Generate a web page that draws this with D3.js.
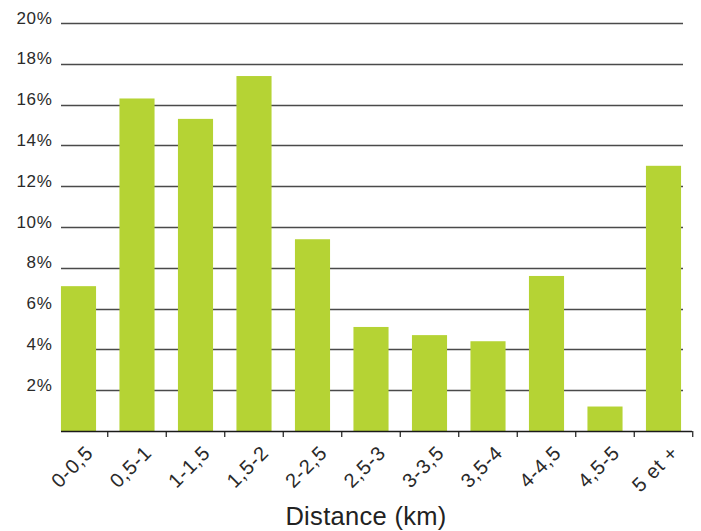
<!DOCTYPE html>
<html>
<head>
<meta charset="utf-8">
<script src="https://cdn.jsdelivr.net/npm/d3@7"></script>
<style>
  html, body { margin: 0; padding: 0; background: #fff; }
  svg { display: block; font-family: "Liberation Sans", Arial, Helvetica, sans-serif; }
</style>
</head>
<body>
<svg id="chart" width="701" height="531"></svg>
<script>
// Share of trips by distance band (%)
const categories = ["0-0,5", "0,5-1", "1-1,5", "1,5-2", "2-2,5", "2,5-3", "3-3,5", "3,5-4", "4-4,5", "4,5-5", "5 et +"];
const shares = [7.1, 16.3, 15.3, 17.4, 9.4, 5.1, 4.7, 4.4, 7.6, 1.2, 13.0];
const yTicks = [2, 4, 6, 8, 10, 12, 14, 16, 18, 20];
const xTitle = "Distance (km)";

const svg = d3.select("#chart");

const x = d3.scaleBand()
  .domain(categories)
  .range([49.25, 692.75])
  .paddingInner(0.4)
  .paddingOuter(0.2);

const y = d3.scaleLinear().domain([0, 20]).range([431, 23]);

const plotLeft = 61, gridRight = 683, axisRight = 692;

// horizontal grid lines
svg.append("g")
  .selectAll("line")
  .data(yTicks)
  .join("line")
  .attr("x1", plotLeft)
  .attr("x2", gridRight)
  .attr("y1", d => Math.round(y(d)) + 0.5)
  .attr("y2", d => Math.round(y(d)) + 0.5)
  .attr("stroke", "#4a4a4a")
  .attr("stroke-width", 1.3);

// y labels
svg.append("g")
  .selectAll("text")
  .data(yTicks)
  .join("text")
  .attr("x", 52.5)
  .attr("y", d => y(d) + 0.5)
  .attr("text-anchor", "end")
  .attr("font-size", 17)
  .attr("letter-spacing", 0.7)
  .attr("fill", "#2a2a2a")
  .text(d => d + "%");

// bars
svg.append("g")
  .selectAll("rect")
  .data(categories)
  .join("rect")
  .attr("x", d => x(d))
  .attr("width", x.bandwidth())
  .attr("y", (d, i) => y(shares[i]))
  .attr("height", (d, i) => y(0) - y(shares[i]))
  .attr("fill", "#b5d334");

// x axis line and ticks between bands
const axis = svg.append("g");
axis.append("line")
  .attr("x1", plotLeft).attr("x2", axisRight)
  .attr("y1", 431.5).attr("y2", 431.5)
  .attr("stroke", "#1a1a1a").attr("stroke-width", 1.6);

const step = x.step();
axis.selectAll("line.tick")
  .data(categories)
  .join("line")
  .attr("class", "tick")
  .attr("x1", d => x(d) + x.bandwidth() + (step - x.bandwidth()) / 2)
  .attr("x2", d => x(d) + x.bandwidth() + (step - x.bandwidth()) / 2)
  .attr("y1", 431).attr("y2", 437)
  .attr("stroke", "#1a1a1a").attr("stroke-width", 1.2);

// rotated category labels
axis.selectAll("text")
  .data(categories)
  .join("text")
  .attr("transform", d => `translate(${x(d) + x.bandwidth() / 2 + 16},${454}) rotate(-45)`)
  .attr("text-anchor", "end")
  .attr("font-size", 20)
  .attr("letter-spacing", 0.8)
  .attr("fill", "#2a2a2a")
  .text(d => d);

// axis title
svg.append("text")
  .attr("x", 366)
  .attr("y", 525)
  .attr("text-anchor", "middle")
  .attr("font-size", 25.5)
  .attr("letter-spacing", 0.3)
  .attr("fill", "#222")
  .text(xTitle);
</script>
</body>
</html>
